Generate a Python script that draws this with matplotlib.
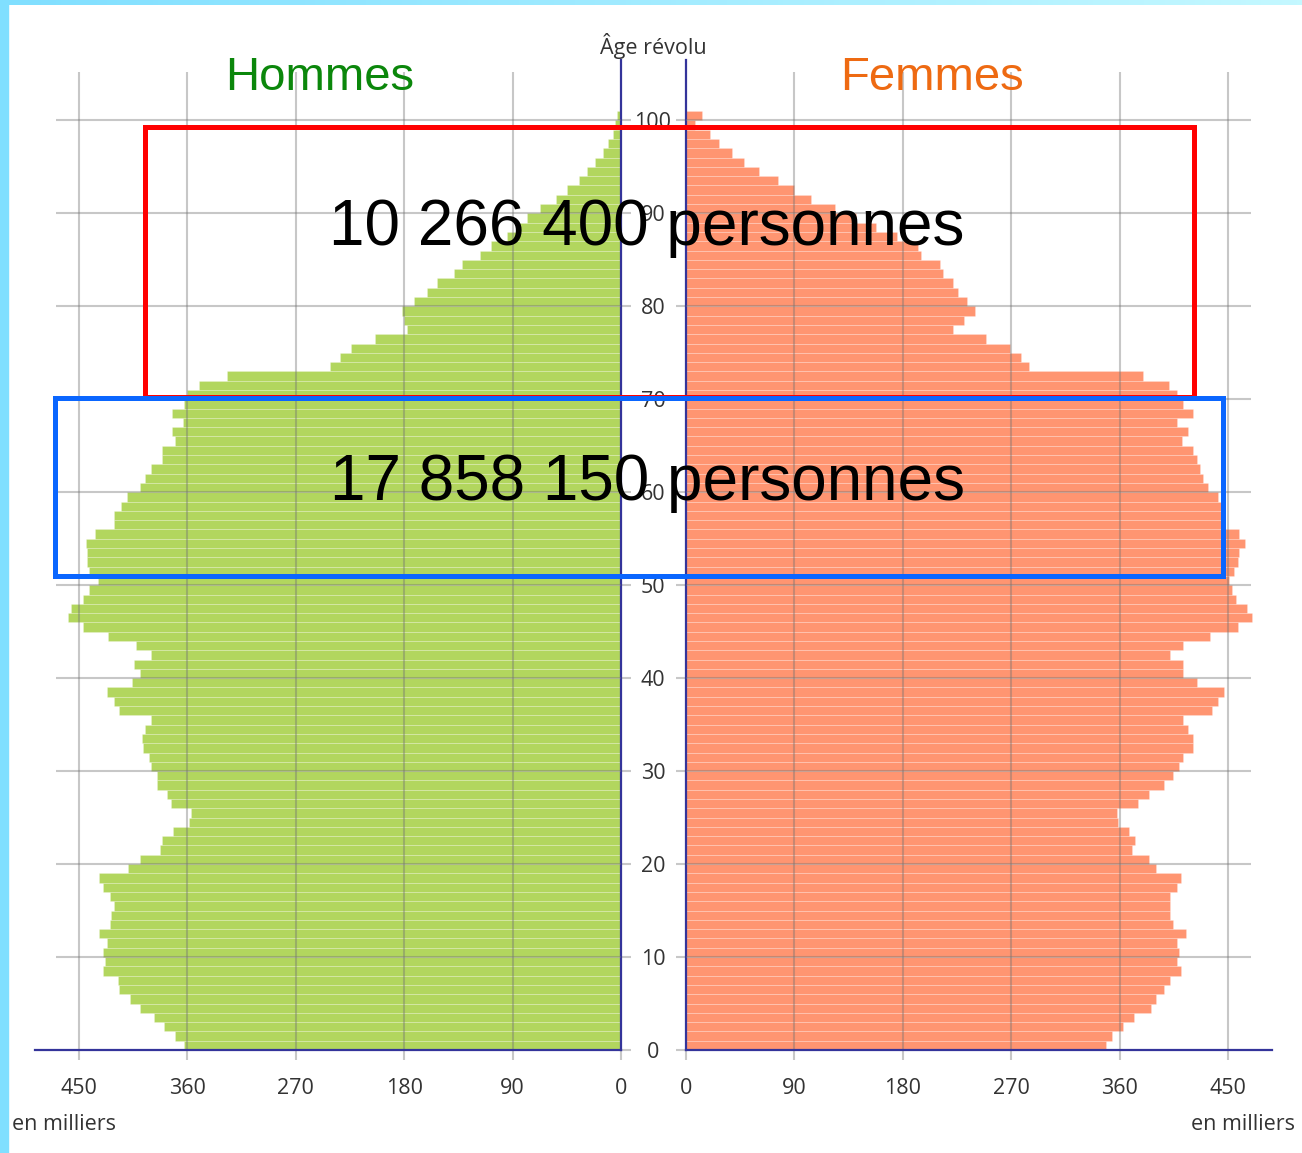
import numpy as np
import matplotlib
matplotlib.use("Agg")
import matplotlib.pyplot as plt
from matplotlib.patches import Rectangle

# population par âge révolu, en milliers
ages = np.arange(0, 101)
hommes = [363, 370, 379, 388, 399, 408, 417, 418, 430, 428,
          430, 427, 433, 424, 423, 421, 424, 430, 433, 409,
          399, 383, 381, 372, 359, 357, 374, 377, 385, 385,
          390, 392, 397, 398, 395, 390, 417, 421, 427, 406,
          399, 404, 390, 403, 426, 447, 459, 457, 447, 442,
          434, 442, 443, 443, 444, 437, 421, 421, 415, 410,
          399, 395, 390, 381, 381, 370, 373, 364, 373, 363,
          360, 350, 327, 242, 233, 224, 204, 178, 180, 182,
          172, 161, 153, 139, 132, 117, 108, 95, 86, 78,
          67, 54, 45, 35, 28, 22, 15, 11, 7, 5,
          3.5]
femmes = [349, 354, 363, 372, 386, 390, 397, 402, 411, 408,
          409, 408, 415, 404, 402, 402, 402, 408, 411, 390,
          384, 370, 373, 368, 359, 358, 375, 384, 397, 404,
          409, 413, 421, 421, 417, 413, 437, 442, 447, 424,
          413, 413, 402, 413, 435, 458, 470, 466, 457, 453,
          451, 455, 458, 459, 464, 459, 444, 444, 444, 442,
          433, 429, 427, 424, 421, 412, 417, 408, 421, 413,
          408, 401, 379, 285, 278, 269, 249, 222, 231, 240,
          233, 226, 222, 213, 211, 195, 193, 175, 158, 141,
          124, 104, 90, 76, 61, 48, 38, 27, 20, 7.5,
          13]

xticks = [0, 90, 180, 270, 360, 450]
yticks = list(range(0, 101, 10))
xmax = 486.5
ymax = 106.5

W, H = 1302, 1153
fig = plt.figure(figsize=(W / 100, H / 100), dpi=100)

vert = "#c8c8c8"
bleu_axe = "#34349a"
grille = (0.45, 0.45, 0.45, 0.40)
fs = 15.5

axL = fig.add_axes([35 / W, 1 - 1050 / H, 586 / W, 990 / H])
axR = fig.add_axes([686 / W, 1 - 1050 / H, 586 / W, 990 / H])

axL.barh(ages, hommes, height=1, align="edge", color="#b2d65e",
         edgecolor=(1, 1, 1, 0.22), linewidth=0.6, zorder=2)
axR.barh(ages, femmes, height=1, align="edge", color="#ff9571",
         edgecolor=(1, 1, 1, 0.22), linewidth=0.6, zorder=2)

axL.set_xlim(xmax, 0)
axR.set_xlim(0, xmax)
for ax in (axL, axR):
    ax.set_ylim(0, ymax)
    ax.vlines(xticks[1:], 0, 105.2, colors=[grille], linewidth=1.5, zorder=3)
    ax.hlines(yticks[1:], 0, 469, colors=[grille], linewidth=1.5, zorder=3)
    ax.set_xticks(xticks)
    ax.set_xticklabels([str(v) for v in xticks])
    ax.tick_params(axis="x", length=7, width=1.5, color=vert, pad=13,
                   labelsize=fs, labelcolor="#333333")
    ax.spines["top"].set_visible(False)
    ax.spines["bottom"].set_color(bleu_axe)
    ax.spines["bottom"].set_linewidth(1.6)
    ax.spines["bottom"].set_zorder(4)
    for lab in ax.get_xticklabels():
        lab.set_fontfamily("Open Sans")

axL.spines["left"].set_visible(False)
axL.spines["right"].set_color(bleu_axe)
axL.spines["right"].set_linewidth(1.6)
axR.spines["right"].set_visible(False)
axR.spines["left"].set_color(bleu_axe)
axR.spines["left"].set_linewidth(1.6)

axL.yaxis.tick_right()
axL.set_yticks(yticks)
axL.set_yticklabels([str(v) for v in yticks])
axL.tick_params(axis="y", length=7.2, width=1.5, color=vert, pad=15.8,
                labelsize=fs, labelcolor="#333333")
for lab in axL.get_yticklabels():
    lab.set_horizontalalignment("center")
    lab.set_fontfamily("Open Sans")

axR.set_yticks(yticks)
axR.tick_params(axis="y", length=7.2, width=1.5, color=vert, labelleft=False)

# titres
fig.text(653 / W, 1 - 46 / H, "Âge révolu", ha="center", va="center",
         fontsize=fs, color="#333333", family="Open Sans")
fig.text(320 / W, 1 - 78 / H, "Hommes", ha="center", va="center",
         fontsize=34, color="#0b870b", family="Liberation Sans")
fig.text(932 / W, 1 - 78 / H, "Femmes", ha="center", va="center",
         fontsize=34, color="#ee6a12", family="Liberation Sans")
fig.text(12 / W, 1 - 1125 / H, "en milliers", ha="left", va="center",
         fontsize=fs, color="#333333", family="Open Sans")
fig.text(1295 / W, 1 - 1125 / H, "en milliers", ha="right", va="center",
         fontsize=fs, color="#333333", family="Open Sans")

# cadres et totaux
fig.patches.append(Rectangle((145 / W, 1 - 397 / H), (1194 - 145) / W, (397 - 127) / H,
                             transform=fig.transFigure, fill=False,
                             edgecolor="#ff0000", linewidth=3.6, zorder=5))
fig.patches.append(Rectangle((55 / W, 1 - 576 / H), (1223 - 55) / W, (576 - 398) / H,
                             transform=fig.transFigure, fill=False,
                             edgecolor="#0a66ff", linewidth=3.6, zorder=6))
fig.text(647 / W, 1 - 245 / H, "10 266 400 personnes", ha="center", va="baseline",
         fontsize=46, color="black", family="Liberation Sans", zorder=7)
fig.text(647 / W, 1 - 500 / H, "17 858 150 personnes", ha="center", va="baseline",
         fontsize=46, color="black", family="Liberation Sans", zorder=7)

# bordure cyan
fig.patches.append(Rectangle((0, 0), 8 / W, 1, transform=fig.transFigure,
                             color="#80dfff", zorder=0))
top = fig.add_axes([0, 1 - 5 / H, 1, 5 / H])
grad = np.linspace(0, 1, 256).reshape(1, -1)
top.imshow(grad, aspect="auto",
           cmap=matplotlib.colors.LinearSegmentedColormap.from_list("b", ["#80dfff", "#c4f8ff"]))
top.axis("off")

fig.savefig("out.png", dpi=100)
